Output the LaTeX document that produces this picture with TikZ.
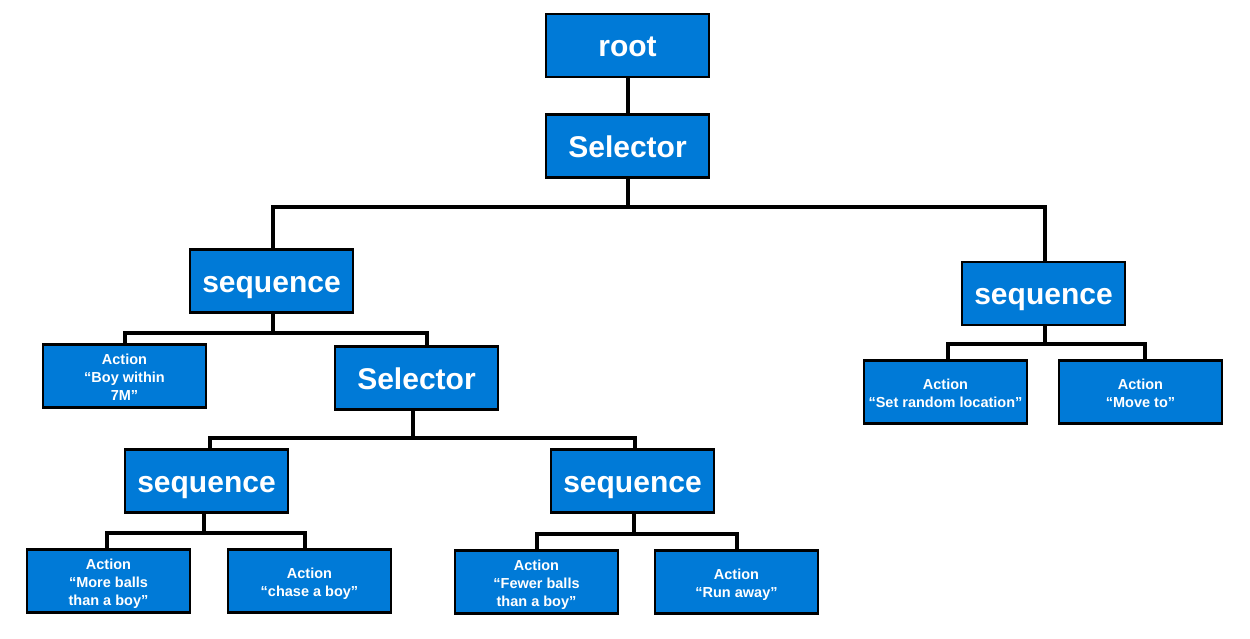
\documentclass[tikz,border=0pt]{standalone}
\usepackage{fontspec}
\setmainfont{Liberation Sans}
\definecolor{boxblue}{RGB}{0,122,215}
\newcommand{\acttxt}[1]{\begin{tabular}{@{}c@{}}\rule{0pt}{18.6pt}#1\end{tabular}}
\begin{document}
\begin{tikzpicture}[x=1pt,y=-1pt,
  box/.style={draw=black,line width=2.5pt,fill=boxblue,minimum width=163pt,minimum height=63pt,inner sep=0pt,text=white,font=\bfseries},
  big/.style={box,font=\fontsize{30}{34}\selectfont\bfseries,text height=22pt,text depth=0pt},
  act/.style={box,font=\fontsize{14.5}{18}\selectfont\bfseries},
  conn/.style={line width=4pt,draw=black,line join=miter}]
\useasboundingbox (0,0) rectangle (1250,638);
\node[big] (root) at (627.5,45.5) {root};
\node[big] (sel1) at (627.5,146) {Selector};
\node[big] (seqL) at (271.5,281) {sequence};
\node[big] (seqR) at (1043.5,293.5) {sequence};
\node[act] (boy) at (124.5,376) {\acttxt{Action\\“Boy within\\7M”}};
\node[big] (sel2) at (416.5,378) {Selector};
\node[act] (setloc) at (945.5,392) {\acttxt{Action\\“Set random location”}};
\node[act] (moveto) at (1140.5,392) {\acttxt{Action\\“Move to”}};
\node[big] (seqLL) at (206.5,481) {sequence};
\node[big] (seqLR) at (632.5,481) {sequence};
\node[act] (more) at (108.5,581) {\acttxt{Action\\“More balls\\than a boy”}};
\node[act] (chase) at (309.5,581) {\acttxt{Action\\“chase a boy”}};
\node[act] (fewer) at (536.5,582) {\acttxt{Action\\“Fewer balls\\than a boy”}};
\node[act] (run) at (736.5,582) {\acttxt{Action\\“Run away”}};
\draw[conn] (root.south) -- (sel1.north);
\draw[conn] (sel1.south) -- (sel1.south |- 0,207) -| ([xshift=1.5pt]seqL.north);
\draw[conn] (sel1.south |- 0,207) -| ([xshift=1.5pt]seqR.north);
\draw[conn] ([xshift=1.5pt]seqL.south) -- ([xshift=1.5pt]seqL.south |- 0,333) -| (boy.north);
\draw[conn] ([xshift=1.5pt]seqL.south |- 0,333) -| ([xshift=10.5pt]sel2.north);
\draw[conn] ([xshift=1.5pt]seqR.south) -- ([xshift=1.5pt]seqR.south |- 0,344) -| ([xshift=2.5pt]setloc.north);
\draw[conn] ([xshift=1.5pt]seqR.south |- 0,344) -| ([xshift=4.5pt]moveto.north);
\draw[conn] ([xshift=-3.5pt]sel2.south) -- ([xshift=-3.5pt]sel2.south |- 0,438) -| ([xshift=3.5pt]seqLL.north);
\draw[conn] ([xshift=-3.5pt]sel2.south |- 0,438) -| ([xshift=2.5pt]seqLR.north);
\draw[conn] ([xshift=-2.5pt]seqLL.south) -- ([xshift=-2.5pt]seqLL.south |- 0,533) -| ([xshift=-1.5pt]more.north);
\draw[conn] ([xshift=-2.5pt]seqLL.south |- 0,533) -| ([xshift=-4.5pt]chase.north);
\draw[conn] ([xshift=1.5pt]seqLR.south) -- ([xshift=1.5pt]seqLR.south |- 0,534) -| ([xshift=0.5pt]fewer.north);
\draw[conn] ([xshift=1.5pt]seqLR.south |- 0,534) -| (run.north);
\end{tikzpicture}
\end{document}
